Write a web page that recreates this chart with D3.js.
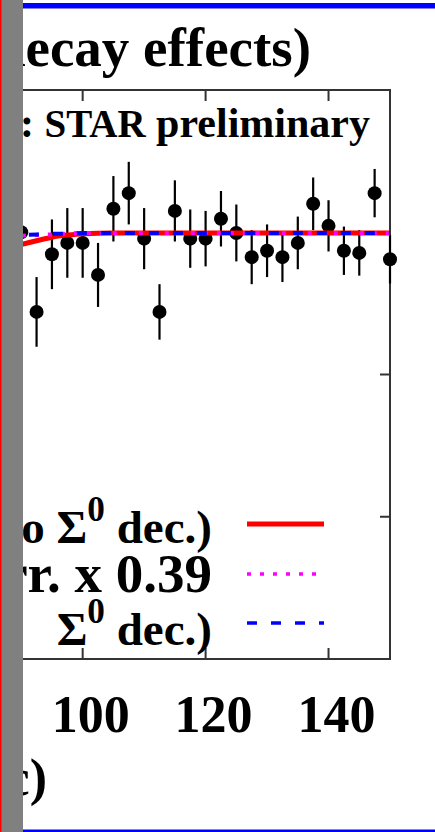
<!DOCTYPE html>
<html>
<head>
<meta charset="utf-8">
<script src="https://cdn.jsdelivr.net/npm/d3@7/dist/d3.min.js"></script>
<style>
  html, body { margin: 0; padding: 0; background: #fff; }
  svg { display: block; }
  text { font-family: "Liberation Serif", "Times New Roman", serif; font-weight: bold; fill: #000; }
</style>
</head>
<body>
<svg id="chart" width="435" height="832"></svg>
<script>
// Lambda-Lambda correlation function vs k* (STAR preliminary)
const kStar = [90, 92.5, 95, 97.5, 100, 102.5, 105, 107.5, 110, 112.5, 115, 117.5, 120,
               122.5, 125, 127.5, 130, 132.5, 135, 137.5, 140, 142.5, 145, 147.5, 150];
const corrValue = [1.000, 0.888, 0.969, 0.985, 0.985, 0.940, 1.033, 1.055, 0.991, 0.888,
                   1.030, 0.991, 0.991, 1.019, 0.999, 0.965, 0.974, 0.965, 0.985, 1.040,
                   1.009, 0.974, 0.971, 1.055, 0.962];
const corrError = [0.054, 0.049, 0.049, 0.049, 0.049, 0.045, 0.046, 0.044, 0.043, 0.039,
                   0.043, 0.041, 0.039, 0.039, 0.040, 0.038, 0.037, 0.035, 0.037, 0.037,
                   0.036, 0.034, 0.032, 0.034, 0.034];

// fit curves
const fitK          = [88, 90, 92.5, 95, 97.5, 100, 105, 110, 120, 130, 140, 150];
const fitNoSigma    = [0.980, 0.983, 0.988, 0.993, 0.996, 0.998, 0.999, 0.999, 0.999, 0.999, 0.999, 0.999];
const fitResidual   = [0.994, 0.995, 0.996, 0.997, 0.998, 0.999, 0.999, 0.999, 0.999, 0.999, 0.999, 0.999];
const fitWithSigma  = [0.995, 0.996, 0.997, 0.998, 0.998, 0.999, 0.999, 0.999, 0.999, 0.999, 0.999, 0.999];

const xTicks = [0, 20, 40, 60, 80, 100, 120, 140];
const yTicks = [0.6, 0.8, 1.0];

const legendLabels = ["Lednicky fit (no \u03A3", "residual corr. x 0.39", "\u03A3"];

const svg = d3.select("#chart");

const x = d3.scaleLinear().domain([0, 150]).range([-532, 390]);
const y = d3.scaleLinear().domain([0.4, 1.2]).range([659, 90]);

const frameColor = "#333";

// plot frame
svg.append("rect")
  .attr("x", x(0)).attr("y", y(1.2))
  .attr("width", x(150) - x(0)).attr("height", y(0.4) - y(1.2))
  .attr("fill", "none").attr("stroke", frameColor).attr("stroke-width", 2);

// ticks: bottom/top
const tickLen = 11;
const xt = svg.append("g");
xTicks.forEach(t => {
  xt.append("line").attr("x1", x(t)).attr("x2", x(t)).attr("y1", y(0.4)).attr("y2", y(0.4) - tickLen)
    .attr("stroke", frameColor).attr("stroke-width", 2);
  xt.append("line").attr("x1", x(t)).attr("x2", x(t)).attr("y1", y(1.2)).attr("y2", y(1.2) + tickLen)
    .attr("stroke", frameColor).attr("stroke-width", 2);
  xt.append("text").attr("x", x(t) + 8).attr("y", 732)
    .attr("text-anchor", "middle").attr("font-size", 52).text(t);
});
yTicks.forEach(t => {
  xt.append("line").attr("x1", x(150)).attr("x2", x(150) - 10).attr("y1", y(t)).attr("y2", y(t))
    .attr("stroke", frameColor).attr("stroke-width", 2);
});

// data points with error bars
const pts = svg.append("g");
kStar.forEach((k, i) => {
  pts.append("line")
    .attr("x1", x(k)).attr("x2", x(k))
    .attr("y1", y(corrValue[i] - corrError[i])).attr("y2", y(corrValue[i] + corrError[i]))
    .attr("stroke", "#000").attr("stroke-width", 2.2);
  pts.append("circle").attr("cx", x(k)).attr("cy", y(corrValue[i])).attr("r", 7).attr("fill", "#000");
});

// fit lines
const line = d3.line().x(d => x(d[0])).y(d => y(d[1])).curve(d3.curveMonotoneX);
svg.append("path").datum(fitK.map((k, i) => [k, fitNoSigma[i]]))
  .attr("d", line).attr("fill", "none").attr("stroke", "#ff0000").attr("stroke-width", 5);
svg.append("path").datum(fitK.map((k, i) => [k, fitResidual[i]]))
  .attr("d", line).attr("fill", "none").attr("stroke", "#ff00ff").attr("stroke-width", 4)
  .attr("stroke-dasharray", "4,9");
svg.append("path").datum(fitK.map((k, i) => [k, fitWithSigma[i]]))
  .attr("d", line).attr("fill", "none").attr("stroke", "#0000ff").attr("stroke-width", 4)
  .attr("stroke-dasharray", "10,14").attr("stroke-dashoffset", 4);

// legend
const lg = svg.append("g");
const legY = [524, 574, 623];
const legStyles = [
  { c: "#ff0000", w: 5, d: null },
  { c: "#ff00ff", w: 3.5, d: "4,9" },
  { c: "#0000ff", w: 3.5, d: "10,14" }
];
legY.forEach((ly, i) => {
  const s = legStyles[i];
  const l = lg.append("line").attr("x1", 247).attr("x2", 324).attr("y1", ly).attr("y2", ly)
    .attr("stroke", s.c).attr("stroke-width", s.w);
  if (s.d) l.attr("stroke-dasharray", s.d);
});

function sigmaLabel(xEnd, yBase, prefix, size) {
  const t = lg.append("text").attr("x", xEnd).attr("y", yBase)
    .attr("text-anchor", "end").attr("font-size", size);
  t.append("tspan").text(prefix);
  t.append("tspan").attr("font-size", size * 0.75).attr("dy", -22).text("0");
  t.append("tspan").attr("dy", 22).text(" dec.)");
}
sigmaLabel(212, 543, legendLabels[0], 47);
lg.append("text").attr("x", 212).attr("y", 592).attr("text-anchor", "end")
  .attr("font-size", 55).text(legendLabels[1]);
lg.append("text").attr("x", 18).attr("y", 645).attr("text-anchor", "end")
  .attr("font-size", 47).text("Lednicky fit (with");
sigmaLabel(212, 645, legendLabels[2], 47);

// titles
svg.append("text").attr("x", 311).attr("y", 66).attr("text-anchor", "end")
  .attr("font-size", 55).text("\u039B\u039B correlation (with \u03A3\u2070 decay effects)");
svg.append("text").attr("x", 18).attr("y", 137).attr("text-anchor", "end")
  .attr("font-size", 42).text("Au+Au 200 GeV");
const sub = svg.append("text").attr("x", 370).attr("y", 137).attr("text-anchor", "end")
  .attr("font-size", 42);
sub.append("tspan").text(": ");
sub.append("tspan").attr("font-size", 39).text("STAR");
sub.append("tspan").text(" preliminary");
svg.append("text").attr("x", 47).attr("y", 795).attr("text-anchor", "end")
  .attr("font-size", 52).text("k* (MeV/c)");

// page edge decorations
svg.append("rect").attr("x", 0).attr("y", 0).attr("width", 23).attr("height", 832).attr("fill", "#808080");
svg.append("rect").attr("x", 0).attr("y", 0).attr("width", 1.5).attr("height", 832).attr("fill", "#ff0000");
svg.append("rect").attr("x", 23).attr("y", 3).attr("width", 412).attr("height", 5.5).attr("fill", "#0000ff");
svg.append("rect").attr("x", 23).attr("y", 829.5).attr("width", 412).attr("height", 2.5).attr("fill", "#0000ff");
</script>
</body>
</html>
